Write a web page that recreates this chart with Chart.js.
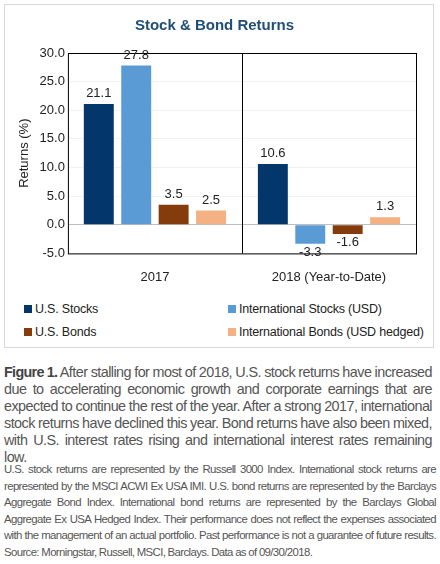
<!DOCTYPE html>
<html>
<head>
<meta charset="utf-8">
<script src="https://cdn.jsdelivr.net/npm/chart.js@4.4.0/dist/chart.umd.min.js"></script>
<style>
  body { margin: 0; background: #fff; font-family: "Liberation Sans", Arial, sans-serif; }
  #box { position: absolute; left: 4px; top: 4px; width: 428px; height: 342px; border: 1px solid #d9d9d9; }
  #chartWrap { position: absolute; left: 0; top: 0; width: 428px; height: 290px; }
  .legend { position: absolute; font-size: 12.5px; color: #222; letter-spacing: -0.2px; }
  .legend span.sq { display: inline-block; width: 8px; height: 8px; margin-right: 3px; }
  #caption { position: absolute; left: 4px; top: 364px; width: 428px; font-size: 14.4px; line-height: 17px; color: #555; text-align: justify; letter-spacing: -0.55px; word-spacing: -0.5px; }
  #caption b { color: #444; letter-spacing: -0.7px; }
  #note { position: absolute; left: 4px; top: 461px; width: 432px; font-size: 11.4px; line-height: 16.6px; color: #555; text-align: justify; letter-spacing: -0.62px; word-spacing: -0.2px; }
</style>
</head>
<body>
<div id="box">
  <div id="chartWrap"><canvas id="returnsChart"></canvas></div>
</div>
<div id="legend"></div>
<div id="caption"><b>Figure 1.</b> After stalling for most of 2018, U.S. stock returns have increased due to accelerating economic growth and corporate earnings that are expected to continue the rest of the year. After a strong 2017, international stock returns have declined this year. Bond returns have also been mixed, with U.S. interest rates rising and international interest rates remaining low.</div>
<div id="note">U.S. stock returns are represented by the Russell 3000 Index. International stock returns are represented by the MSCI ACWI Ex USA IMI. U.S. bond returns are represented by the Barclays Aggregate Bond Index. International bond returns are represented by the Barclays Global Aggregate Ex USA Hedged Index. Their performance does not reflect the expenses associated with the management of an actual portfolio. Past performance is not a guarantee of future results. Source: Morningstar, Russell, MSCI, Barclays. Data as of 09/30/2018.</div>
<script>
var categories = ['2017', '2018 (Year-to-Date)'];
var seriesNames = ['U.S. Stocks', 'International Stocks (USD)', 'U.S. Bonds', 'International Bonds (USD hedged)'];
var usStocks = [21.1, 10.6];
var intlStocks = [27.8, -3.3];
var usBonds = [3.5, -1.6];
var intlBonds = [2.5, 1.3];
var colors = ['#03376b', '#5b9bd5', '#843c0c', '#f4b183'];

var allSeries = [usStocks, intlStocks, usBonds, intlBonds];

// legend in 2x2 grid
var legendPos = [[24, 302], [228, 302], [24, 325], [228, 325]];
var legendHtml = '';
seriesNames.forEach(function(name, i) {
    legendHtml += '<div class="legend" style="left:' + legendPos[i][0] + 'px;top:' + legendPos[i][1] + 'px">' +
        '<span class="sq" style="background:' + colors[i] + '"></span>' + name + '</div>';
});
document.getElementById('legend').innerHTML = legendHtml;

// draws frame, middle divider and value labels
var decorPlugin = {
    id: 'decor',
    afterDatasetsDraw: function(chart) {
        var ctx = chart.ctx;
        var a = chart.chartArea;
        var xs = chart.scales.x;
        ctx.save();
        ctx.strokeStyle = '#000';
        ctx.lineWidth = 1;
        ctx.strokeRect(a.left + 0.5, a.top + 0.5, a.right - a.left, a.bottom - a.top);
        var mid = Math.round((xs.getPixelForValue(0) + xs.getPixelForValue(1)) / 2) + 0.5;
        ctx.beginPath();
        ctx.moveTo(mid, a.top);
        ctx.lineTo(mid, a.bottom);
        ctx.stroke();
        ctx.fillStyle = '#222';
        ctx.font = '13px "Liberation Sans", Arial, sans-serif';
        ctx.textAlign = 'center';
        chart.data.datasets.forEach(function(ds, di) {
            chart.getDatasetMeta(di).data.forEach(function(bar, i) {
                var v = ds.data[i];
                if (v >= 0) {
                    ctx.textBaseline = 'bottom';
                    ctx.fillText(v.toFixed(1), bar.x, bar.y - 4);
                } else {
                    ctx.textBaseline = 'top';
                    ctx.fillText(v.toFixed(1), bar.x, bar.y + 2);
                }
            });
        });
        ctx.restore();
    }
};

var ctx = document.getElementById('returnsChart').getContext('2d');
var returnsChart = new Chart(ctx, {
    type: 'bar',
    data: {
        labels: categories,
        datasets: allSeries.map(function(vals, i) {
            return {
                label: seriesNames[i],
                data: vals,
                backgroundColor: colors[i],
                categoryPercentage: 0.86,
                barPercentage: 0.8
            };
        })
    },
    options: {
        responsive: false,
        animation: false,
        maintainAspectRatio: false,
        layout: { padding: { left: 8, right: 17, top: 0, bottom: 2 } },
        plugins: {
            legend: { display: false },
            tooltip: { enabled: false },
            title: {
                display: true,
                text: 'Stock & Bond Returns',
                color: '#1f4e79',
                font: { family: '"Liberation Sans", Arial, sans-serif', size: 15, weight: 'bold' },
                padding: { top: 12, bottom: 18 }
            }
        },
        scales: {
            x: {
                grid: { display: false },
                border: { display: false },
                ticks: { color: '#222', font: { family: '"Liberation Sans", Arial, sans-serif', size: 13 }, padding: 8 }
            },
            y: {
                min: -5,
                max: 30,
                ticks: {
                    stepSize: 5,
                    color: '#222',
                    font: { family: '"Liberation Sans", Arial, sans-serif', size: 13 },
                    callback: function(v) { return v.toFixed(1); }
                },
                grid: {
                    drawTicks: false,
                    color: function(c) { return c.tick.value === 0 ? '#bfbfbf' : '#f2f2f2'; }
                },
                border: { display: false },
                title: {
                    display: true,
                    text: 'Returns (%)',
                    color: '#222',
                    font: { family: '"Liberation Sans", Arial, sans-serif', size: 13 }
                }
            }
        }
    },
    plugins: [decorPlugin]
});
returnsChart.resize(428, 290);
</script>
</body>
</html>
